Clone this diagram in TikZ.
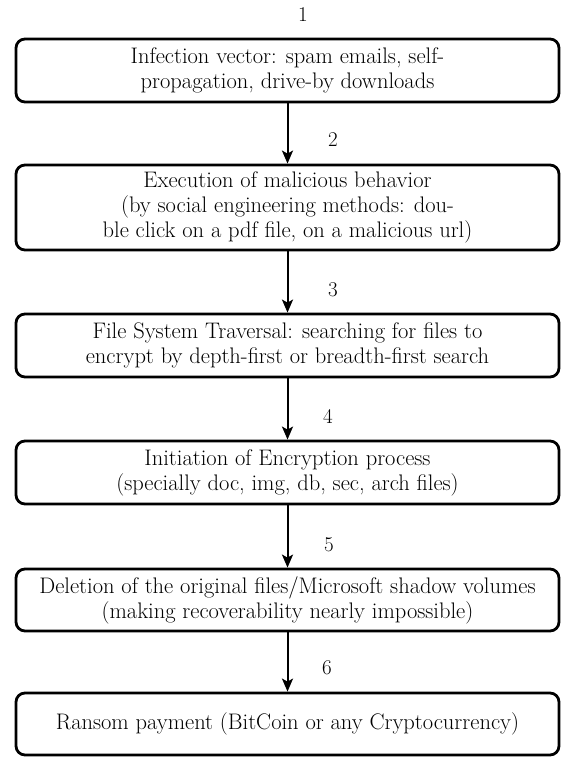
\documentclass[tikz,border=0pt]{standalone}
\usetikzlibrary{arrows.meta}
\begin{document}
\begin{tikzpicture}[x=1pt,y=-1pt,
  stepbox/.style={draw, line width=2.8pt, rounded corners=9pt, minimum width=543pt, align=center, inner sep=0pt, font=\fontsize{22.5}{25}\selectfont},
  flow/.style={line width=2pt, -{Stealth[length=13pt,width=11pt,inset=3pt]}},
  num/.style={font=\fontsize{21}{24}\selectfont, inner sep=0pt}]
\useasboundingbox (0,0) rectangle (563,757);
\node[stepbox, minimum height=63pt] (b1) at (287.5,70.5) {Infection vector: spam emails, self-\\propagation, drive-by downloads};
\node[stepbox, minimum height=85pt] (b2) at (287.5,207.5) {Execution of malicious behavior\\(by social engineering methods: dou-\\ble click on a pdf file, on a malicious url)};
\node[stepbox, minimum height=63pt] (b3) at (287.5,345.5) {File System Traversal: searching for files to\\encrypt by depth-first or breadth-first search};
\node[stepbox, minimum height=63pt] (b4) at (287.5,472.5) {Initiation of Encryption process\\(specially doc, img, db, sec, arch files)};
\node[stepbox, minimum height=62pt] (b5) at (287.5,600) {Deletion of the original files/Microsoft shadow volumes\\(making recoverability nearly impossible)};
\node[stepbox, minimum height=62pt] (b6) at (287.5,724) {Ransom payment (BitCoin or any Cryptocurrency)};
\draw[flow] (b1.south) -- (b2.north);
\draw[flow] (b2.south) -- (b3.north);
\draw[flow] (b3.south) -- (b4.north);
\draw[flow] (b4.south) -- (b5.north);
\draw[flow] (b5.south) -- (b6.north);
\node[num] (n1) at (303,15) {1};
\node[num] (n2) at (333,140) {2};
\node[num] (n3) at (333,290) {3};
\node[num] (n4) at (328,416) {4};
\node[num] (n5) at (329,545) {5};
\node[num] (n6) at (327,668) {6};
\end{tikzpicture}
\end{document}
